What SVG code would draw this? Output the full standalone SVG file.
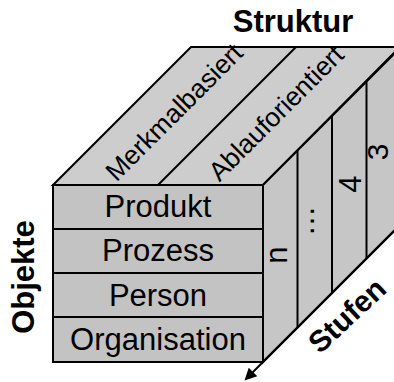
<svg xmlns="http://www.w3.org/2000/svg" width="394" height="382" viewBox="0 0 394 382">
<style>
.f{stroke:#000;stroke-width:2;stroke-linejoin:miter}
.top{fill:#cdcdcd}
.front{fill:#c3c3c3}
.side{fill:#c6c6c6}
.ln{stroke:#000;stroke-width:2;fill:none}
.t{font-family:"Liberation Sans",Arial,sans-serif;fill:#000}
.b{font-family:"Liberation Sans",Arial,sans-serif;font-weight:bold;fill:#000}
</style>
<defs>
<marker id="ah" viewBox="0 0 10 10" refX="4.7" refY="5" markerWidth="16" markerHeight="12" markerUnits="userSpaceOnUse" orient="auto">
<path d="M0,0 L10,5 L0,10 z" fill="#000"/>
</marker>
</defs>
<rect width="394" height="382" fill="#fff"/>

<g id="top-face">
<polygon class="f top" points="53,185 191,47 400,47 263,185"/>
<g id="merkmalbasiert">
<line class="ln" x1="158" y1="185" x2="296" y2="47"/>
<text class="t" font-size="26.5" text-anchor="middle" transform="translate(180.5,118.5) rotate(-45)">Merkmalbasiert</text>
</g>
<g id="ablauforientiert">
<text class="t" font-size="26.5" text-anchor="middle" transform="translate(282.5,119.5) rotate(-45)">Ablauforientiert</text>
</g>
</g>

<g id="right-face">
<polygon class="f side" points="263,185 400,48 400,225 263,362"/>
<g id="stufe-n">
<text class="t" font-size="31" text-anchor="middle" transform="translate(287,255) rotate(-90)">n</text>
</g>
<g id="stufe-dots">
<line class="ln" x1="297.5" y1="150.5" x2="297.5" y2="327.5"/>
<text class="t" font-size="31" text-anchor="middle" transform="translate(314,221) rotate(-90)">…</text>
</g>
<g id="stufe-4">
<line class="ln" x1="332" y1="116" x2="332" y2="293"/>
<text class="t" font-size="31" text-anchor="middle" transform="translate(361,184) rotate(-90)">4</text>
</g>
<g id="stufe-3">
<line class="ln" x1="366.5" y1="81.5" x2="366.5" y2="258.5"/>
<text class="t" font-size="30" text-anchor="middle" transform="translate(388,152) rotate(-90)">3</text>
</g>
</g>

<g id="front-face">
<g id="produkt">
<rect class="f front" x="53" y="185" width="210" height="44"/>
<text class="t" font-size="31" x="158" y="217" text-anchor="middle">Produkt</text>
</g>
<g id="prozess">
<rect class="f front" x="53" y="229" width="210" height="44"/>
<text class="t" font-size="31" x="158" y="261" text-anchor="middle">Prozess</text>
</g>
<g id="person">
<rect class="f front" x="53" y="273" width="210" height="44"/>
<text class="t" font-size="31" x="158" y="306" text-anchor="middle">Person</text>
</g>
<g id="organisation">
<rect class="f front" x="53" y="317" width="210" height="45"/>
<text class="t" font-size="31" x="158" y="350" text-anchor="middle">Organisation</text>
</g>
</g>

<g id="connectors">
<line class="ln" x1="398" y1="227" x2="249" y2="376" marker-end="url(#ah)"/>
</g>

<g id="axis-labels">
<text class="b" font-size="31" x="293" y="32" text-anchor="middle">Struktur</text>
<text class="b" font-size="31" text-anchor="middle" transform="translate(34,277) rotate(-90)">Objekte</text>
<text class="b" font-size="30" text-anchor="middle" transform="translate(354,323) rotate(-43)">Stufen</text>
</g>
</svg>
